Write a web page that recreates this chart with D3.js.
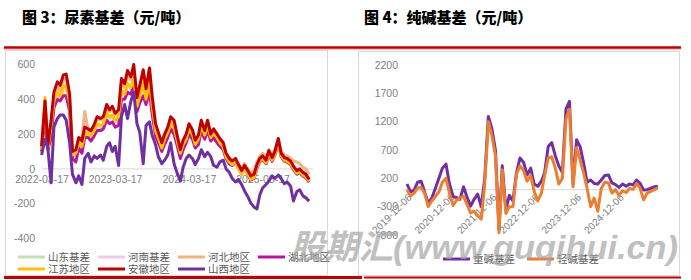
<html>
<head>
<meta charset="utf-8">
<script src="https://d3js.org/d3.v7.min.js"></script>
<style>
    body { margin: 0; background: #fff; }
    svg { display: block; }
</style>
</head>
<body>
<script>

    // ---- 图3 尿素基差 ----
    var ureaDates = [
        "2022-03-15", "2022-04-01", "2022-04-15", "2022-05-01", "2022-05-15", "2022-06-01", "2022-06-15", "2022-07-01", "2022-07-15", "2022-08-01",
        "2022-08-15", "2022-09-01", "2022-09-15", "2022-10-01", "2022-10-15", "2022-11-01", "2022-11-15", "2022-12-01", "2022-12-15",
        "2023-01-01", "2023-01-15", "2023-02-01", "2023-02-15", "2023-03-01", "2023-03-15", "2023-04-01", "2023-04-15", "2023-05-01", "2023-05-15",
        "2023-06-01", "2023-06-15", "2023-07-01", "2023-07-15", "2023-08-01", "2023-08-15", "2023-09-01", "2023-09-15", "2023-10-01", "2023-10-15",
        "2023-11-01", "2023-11-15", "2023-12-01", "2023-12-15",
        "2024-01-01", "2024-01-15", "2024-02-01", "2024-02-15", "2024-03-01", "2024-03-15", "2024-04-01", "2024-04-15", "2024-05-01", "2024-05-15",
        "2024-06-01", "2024-06-15", "2024-07-01", "2024-07-15", "2024-08-01", "2024-08-15", "2024-09-01", "2024-09-15", "2024-10-01", "2024-10-15",
        "2024-11-01", "2024-11-15", "2024-12-01", "2024-12-15",
        "2025-01-01", "2025-01-15", "2025-02-01", "2025-02-15", "2025-03-01", "2025-03-15", "2025-04-01", "2025-04-15", "2025-05-01", "2025-05-15",
        "2025-06-01", "2025-06-15", "2025-07-01", "2025-07-15", "2025-08-01", "2025-08-15", "2025-09-01", "2025-09-15", "2025-10-01", "2025-10-15",
        "2025-11-01"
    ];

    var shandong = [100, 380, 120, 230, 380, 430, 410, 460, 470, 370, 70, 80, 140, 120, 200, 190, 180, 210, 250, 240,
        250, 310, 290, 300, 270, 290, 440, 420, 480, 460, 510, 350, 410, 480, 390, 490, 350, 210, 170, 110,
        160, 200, 250, 230, 160, 80, 130, 160, 220, 190, 130, 160, 240, 185, 240, 170, 195, 170, 140, 115,
        60, 30, 20, 35, 0, -35, -5, -30, -60, -55, 5, 40, 55, 30, 85, 45, 80, 150, 70, 45,
        40, 25, -5, -30, -20, -40, -50, -75];
    var henan = [105, 400, 125, 235, 385, 435, 415, 465, 475, 375, 75, 85, 145, 125, 205, 195, 185, 215, 255, 245,
        255, 315, 295, 305, 275, 295, 445, 425, 485, 465, 515, 355, 415, 485, 395, 495, 355, 215, 175, 115,
        165, 205, 255, 235, 165, 85, 135, 165, 225, 195, 135, 165, 245, 190, 245, 175, 200, 175, 145, 120,
        65, 35, 20, 38, 2, -32, -2, -28, -62, -52, 8, 42, 58, 32, 88, 48, 82, 152, 72, 48,
        42, 28, -2, -28, -18, -38, -48, -72];
    var hebei = [120, 370, 130, 260, 420, 470, 450, 510, 520, 400, 90, 100, 170, 180, 330, 220, 210, 240, 290, 280,
        290, 350, 330, 340, 310, 330, 500, 470, 540, 510, 570, 400, 470, 560, 450, 580, 400, 250, 200, 140,
        190, 230, 290, 270, 190, 100, 160, 190, 250, 215, 160, 190, 270, 215, 270, 195, 225, 195, 170, 140,
        85, 55, 50, 55, 30, 0, 30, 0, -20, -10, 40, 70, 90, 70, 110, 80, 110, 170, 100, 80,
        75, 60, 45, 40, 30, 10, 0, -30];
    var hubei = [100, 300, 110, 180, 350, 400, 390, 420, 420, 330, 60, 40, 120, 90, 180, 180, 160, 190, 220, 220,
        230, 280, 260, 270, 240, 250, 400, 400, 440, 430, 480, 330, 380, 420, 370, 440, 310, 190, 150, 100,
        140, 180, 230, 200, 140, 60, 110, 150, 200, 170, 120, 140, 220, 170, 220, 160, 180, 150, 130, 110,
        60, 30, 20, 40, 10, -25, 5, -30, -65, -55, 5, 40, 55, 30, 80, 45, 80, 150, 70, 45,
        40, 25, -5, -30, -20, -40, -50, -75];
    var jiangsu = [110, 410, 120, 240, 390, 440, 420, 470, 480, 380, 80, 90, 150, 130, 210, 200, 190, 220, 260, 250,
        260, 320, 300, 310, 280, 300, 450, 430, 490, 470, 520, 360, 420, 490, 400, 500, 360, 220, 180, 120,
        170, 210, 260, 240, 170, 90, 140, 170, 230, 200, 140, 170, 250, 195, 250, 180, 205, 180, 150, 125,
        70, 40, 25, 40, 5, -30, 0, -25, -60, -50, 10, 45, 60, 35, 90, 50, 85, 155, 75, 50,
        45, 30, 0, -25, -15, -35, -45, -70];
    var anhui = [130, 390, 140, 275, 440, 500, 480, 540, 545, 430, 100, 110, 180, 160, 240, 230, 220, 255, 300, 290,
        300, 370, 340, 360, 320, 340, 520, 490, 565, 530, 600, 410, 480, 570, 460, 580, 410, 260, 210, 150,
        200, 240, 300, 280, 200, 110, 165, 200, 260, 225, 165, 195, 280, 220, 280, 200, 230, 200, 175, 150,
        90, 60, 45, 60, 25, -10, 20, -10, -40, -30, 25, 60, 75, 50, 105, 65, 100, 175, 90, 65,
        60, 45, 15, -10, 0, -20, -30, -60];
    var shanxi = [80, 170, 120, -80, 240, 290, 310, 310, 280, 150, -30, -80, -40, -90, 60, 90, 40, 75, 60, 80,
        50, 130, 150, 100, 130, 20, 300, 370, 290, 390, 440, 260, 210, 30, 250, 270, 190, 140, 70, 30,
        50, 80, 150, 30, -20, -70, 10, 60, 80, 60, 25, 60, 110, 70, 95, 70, 20, 10, 40, 50,
        0, -20, -55, -75, -60, -90, -125, -160, -195, -220, -230, -150, -110, -90, -70, -40, -55, -35, -55, -85,
        -75, -100, -185, -130, -120, -155, -165, -185];

    var ureaNames = ["山东基差", "河南基差", "河北地区", "湖北地区", "江苏地区", "安徽地区", "山西地区"];
    var ureaColors = ["#c5e0b4", "#f2c9ec", "#f4b183", "#b8169f", "#ffc000", "#c00000", "#7030a0"];
    var ureaTicks = ["2022-03-17", "2023-03-17", "2024-03-17", "2025-03-17"];
    var ureaYTicks = [600, 400, 200, 0, -200, -400];

    // ---- 图4 纯碱基差 ----
    var sodaDates = [
        "2019-12-06",
        "2020-01-06", "2020-02-06", "2020-03-06", "2020-04-06", "2020-05-06", "2020-06-06", "2020-07-06", "2020-08-06", "2020-09-06", "2020-10-06", "2020-11-06", "2020-12-06",
        "2021-01-06", "2021-02-06", "2021-03-06", "2021-04-06", "2021-05-06", "2021-06-06", "2021-07-06", "2021-08-06", "2021-09-06", "2021-10-06", "2021-11-06", "2021-12-06",
        "2022-01-06", "2022-02-06", "2022-03-06", "2022-04-06", "2022-05-06", "2022-06-06", "2022-07-06", "2022-08-06", "2022-09-06", "2022-10-06", "2022-11-06", "2022-12-06",
        "2023-01-06", "2023-02-06", "2023-03-06", "2023-04-06", "2023-05-06", "2023-06-06", "2023-07-06", "2023-08-06", "2023-09-06", "2023-10-06", "2023-11-06", "2023-12-06",
        "2024-01-06", "2024-02-06", "2024-03-06", "2024-04-06", "2024-05-06", "2024-06-06", "2024-07-06", "2024-08-06", "2024-09-06", "2024-10-06", "2024-11-06", "2024-12-06",
        "2025-01-06", "2025-02-06", "2025-03-06", "2025-04-06", "2025-05-06", "2025-06-06", "2025-07-06", "2025-08-06", "2025-09-06", "2025-10-06", "2025-11-06"
    ];
    var heavySoda = [100, -40, -5, 130, 150, -40, -240, -150, 20, 200, 380, 450, 100,
        -120, -140, -170, 50, -130, -290, -170, -80, -300, 200, 1290, 1080,
        700, -700, 420, -350, -100, -200, 290, 560, 480, 260, 380, 100,
        60, 150, 300, 760, 830, 600, 420, 300, 1420, 1560, 100, 880,
        760, 460, 130, 170, 110, 100, 170, 250, 260, 120, 90, 40,
        100, 60, 100, 85, 170, 110, -5, 0, 25, 50, 60];
    var lightSoda = [0, -110, -60, 30, 40, -65, -300, -200, -120, -40, 130, 200, -60,
        -280, -180, -150, -120, -260, -410, -380, -460, -520, 100, 1200, 960,
        600, -760, 350, -420, -300, -300, 270, 420, 330, 150, 250, -30,
        -200, -60, 250, 560, 580, 380, 100, 200, 1250, 1420, 50, 740,
        520, 290, 20, -300, -150, -380, 20, 130, 120, -60, 0, -100,
        -20, -50, 20, 5, 110, 25, -180, -60, -30, 0, 30];

    var sodaNames = ["重碱基差", "轻碱基差"];
    var sodaColors = ["#7030a0", "#ed7d31"];
    var sodaTicks = ["2019-12-06", "2020-12-06", "2021-12-06", "2022-12-06", "2023-12-06", "2024-12-06"];
    var sodaYTicks = [2200, 1700, 1200, 700, 200, -300, -800];


    var w = 691, h = 280;
    var parse = d3.timeParse("%Y-%m-%d");
    var cjk = "'Noto Sans CJK SC', sans-serif";
    var latin = "'Liberation Sans', Arial, sans-serif";

    var svg = d3.select("body")
        .append("svg")
        .attr("width", w)
        .attr("height", h);

    // titles
    svg.append("text").attr("x", 22).attr("y", 23)
        .attr("font-family", cjk).attr("font-weight", 900).attr("font-size", 15)
        .attr("fill", "#000").text("图 3：尿素基差（元/吨）");
    svg.append("text").attr("x", 364).attr("y", 23)
        .attr("font-family", cjk).attr("font-weight", 900).attr("font-size", 15)
        .attr("fill", "#000").text("图 4：纯碱基差（元/吨）");

    // red rules
    svg.append("line").attr("x1", 4).attr("x2", 681).attr("y1", 47.5).attr("y2", 47.5)
        .attr("stroke", "#c00000").attr("stroke-width", 2.5);
    svg.append("line").attr("x1", 4).attr("x2", 681).attr("y1", 49.5).attr("y2", 49.5)
        .attr("stroke", "#f2c4c4").attr("stroke-width", 1);
    svg.append("line").attr("x1", 4).attr("x2", 362).attr("y1", 277.5).attr("y2", 277.5)
        .attr("stroke", "#c00000").attr("stroke-width", 3);
    svg.append("line").attr("x1", 364).attr("x2", 681).attr("y1", 277.5).attr("y2", 277.5)
        .attr("stroke", "#c00000").attr("stroke-width", 2);

    // panel boxes
    svg.append("rect").attr("x", 5.5).attr("y", 50.5).attr("width", 322).attr("height", 225)
        .attr("fill", "none").attr("stroke", "#d9d9d9");
    svg.append("rect").attr("x", 358.5).attr("y", 51.5).attr("width", 321).attr("height", 224)
        .attr("fill", "none").attr("stroke", "#d9d9d9");


    // ================= left chart =================
    var xL = d3.scaleTime()
        .domain([parse("2022-03-17"), parse("2025-03-17")])
        .range([42, 263]);
    var yL = d3.scaleLinear().domain([-400, 600]).range([238.5, 64.5]);

    var gL = svg.append("g");

    gL.selectAll(".ylab").data(ureaYTicks).enter().append("text")
        .attr("x", 35).attr("y", (d) => yL(d)).attr("dy", "0.35em")
        .attr("text-anchor", "end").attr("font-family", latin).attr("font-size", 10.5)
        .attr("fill", "#808080").text((d) => d);

    gL.append("line").attr("x1", 42).attr("x2", 313)
        .attr("y1", yL(0)).attr("y2", yL(0)).attr("stroke", "#d9d9d9");

    gL.selectAll(".xlab").data(ureaTicks).enter().append("text")
        .attr("x", (d) => xL(parse(d))).attr("y", yL(0) + 14)
        .attr("text-anchor", "middle").attr("font-family", latin).attr("font-size", 10.5)
        .attr("fill", "#808080").text((d) => d);

    var ureaSeries = [shandong, henan, hebei, hubei, jiangsu, anhui, shanxi];
    var lineL = d3.line()
        .x((d, i) => xL(parse(ureaDates[i])))
        .y((d) => yL(d));

    gL.selectAll(".series").data(ureaSeries).enter().append("path")
        .attr("d", lineL)
        .attr("fill", "none")
        .attr("stroke", (d, i) => ureaColors[i])
        .attr("stroke-width", 3)
        .attr("stroke-linejoin", "round");

    // legend
    var legL = gL.selectAll(".leg").data(ureaNames).enter().append("g")
        .attr("transform", (d, i) => "translate(" + (18 + (i % 4) * 80) + "," + (i < 4 ? 257 : 269) + ")");
    legL.append("line").attr("x1", 0).attr("x2", 27).attr("y1", 0).attr("y2", 0)
        .attr("stroke", (d, i) => ureaColors[i]).attr("stroke-width", 3);
    legL.append("text").attr("x", 30).attr("dy", "0.36em")
        .attr("font-family", cjk).attr("font-size", 10.5).attr("fill", "#595959")
        .text((d) => d);


    // ================= right chart =================
    var xR = d3.scaleTime()
        .domain([parse("2019-12-06"), parse("2024-12-06")])
        .range([407, 619]);
    var yR = d3.scaleLinear().domain([-800, 2200]).range([235, 65]);

    var gR = svg.append("g");

    gR.selectAll(".ylab").data(sodaYTicks).enter().append("text")
        .attr("x", 398).attr("y", (d) => yR(d)).attr("dy", "0.35em")
        .attr("text-anchor", "end").attr("font-family", latin).attr("font-size", 10.5)
        .attr("fill", "#808080").text((d) => d);

    gR.append("line").attr("x1", 403).attr("x2", 658)
        .attr("y1", yR(0)).attr("y2", yR(0)).attr("stroke", "#d9d9d9");

    gR.selectAll(".xlab").data(sodaTicks).enter().append("text")
        .attr("transform", (d) => "translate(" + (xR(parse(d)) + 3) + "," + (yR(0) + 6) + ") rotate(-45)")
        .attr("text-anchor", "end").attr("dy", "0.35em")
        .attr("font-family", latin).attr("font-size", 10)
        .attr("fill", "#808080").text((d) => d);

    var sodaSeries = [heavySoda, lightSoda];
    var lineR = d3.line()
        .x((d, i) => xR(parse(sodaDates[i])))
        .y((d) => yR(d));

    gR.selectAll(".series").data(sodaSeries).enter().append("path")
        .attr("d", lineR)
        .attr("fill", "none")
        .attr("stroke", (d, i) => sodaColors[i])
        .attr("stroke-width", 3)
        .attr("stroke-linejoin", "round");

    var legR = gR.selectAll(".leg").data(sodaNames).enter().append("g")
        .attr("transform", (d, i) => "translate(" + (443 + i * 84) + ",259)");
    legR.append("line").attr("x1", 0).attr("x2", 27).attr("y1", 0).attr("y2", 0)
        .attr("stroke", (d, i) => sodaColors[i]).attr("stroke-width", 3);
    legR.append("text").attr("x", 30).attr("dy", "0.36em")
        .attr("font-family", cjk).attr("font-size", 10.5).attr("fill", "#595959")
        .text((d) => d);

    // watermark
    svg.append("text").attr("x", 290).attr("y", 259)
        .attr("font-family", "'Liberation Sans', 'Noto Sans CJK SC', sans-serif")
        .attr("font-weight", "bold").attr("font-style", "italic").attr("font-size", 34)
        .attr("textLength", 388).attr("lengthAdjust", "spacingAndGlyphs")
        .attr("fill", "#a6a6a6").attr("opacity", 0.7)
        .text("股期汇(www.guqihui.cn)");

</script>
</body>
</html>
